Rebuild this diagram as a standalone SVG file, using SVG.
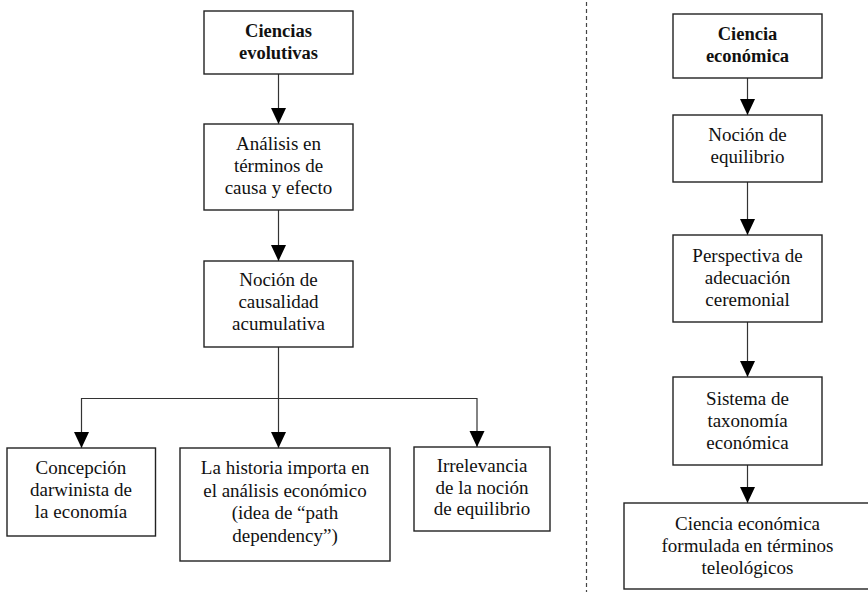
<svg xmlns="http://www.w3.org/2000/svg" width="868" height="592" viewBox="0 0 868 592">
<style>
.box{fill:#fff;stroke:#222;stroke-width:1.4}
.t{font-family:"Liberation Serif","Times New Roman",serif;font-size:19px;fill:#111;text-anchor:middle}
.b{font-weight:bold;font-size:18.5px}
.c{fill:none;stroke:#333;stroke-width:1.2}
.sep{stroke:#444;stroke-width:1.2;stroke-dasharray:4 3;fill:none}
</style>
<defs>
<marker id="ah" markerUnits="userSpaceOnUse" markerWidth="16" markerHeight="16" viewBox="0 0 16 16" refX="16" refY="8" orient="auto">
<path d="M0,0.5 L16,8 L0,15.5 z" fill="#000"/>
</marker>
</defs>
<rect width="868" height="592" fill="#fff"/>
<line class="sep" x1="586.5" y1="2" x2="586.5" y2="592"/>
<g id="connectors">
<line class="c" x1="278.5" y1="74" x2="278.5" y2="124" marker-end="url(#ah)"/>
<line class="c" x1="278.5" y1="210" x2="278.5" y2="261" marker-end="url(#ah)"/>
<line class="c" x1="278.5" y1="347" x2="278.5" y2="448" marker-end="url(#ah)"/>
<path class="c" d="M278.5,398.5 H81.5 V448" marker-end="url(#ah)"/>
<path class="c" d="M278.5,398.5 H477 V447" marker-end="url(#ah)"/>
<line class="c" x1="747.5" y1="78" x2="747.5" y2="115" marker-end="url(#ah)"/>
<line class="c" x1="747.5" y1="182" x2="747.5" y2="235" marker-end="url(#ah)"/>
<line class="c" x1="747.5" y1="322" x2="747.5" y2="377" marker-end="url(#ah)"/>
<line class="c" x1="747.5" y1="465" x2="747.5" y2="503" marker-end="url(#ah)"/>
</g>
<g id="n1">
<rect class="box" x="204" y="11" width="149" height="63"/>
<text class="t b" x="278.5" y="36.5">Ciencias</text>
<text class="t b" x="278.5" y="58.5">evolutivas</text>
</g>
<g id="n2">
<rect class="box" x="204" y="124" width="149" height="86"/>
<text class="t" x="278.5" y="150">Análisis en</text>
<text class="t" x="278.5" y="172">términos de</text>
<text class="t" x="278.5" y="194">causa y efecto</text>
</g>
<g id="n3">
<rect class="box" x="204" y="261" width="149" height="86"/>
<text class="t" x="278.5" y="286">Noción de</text>
<text class="t" x="278.5" y="308">causalidad</text>
<text class="t" x="278.5" y="330">acumulativa</text>
</g>
<g id="n4">
<rect class="box" x="7" y="448" width="148.5" height="88"/>
<text class="t" x="81" y="474">Concepción</text>
<text class="t" x="81" y="496">darwinista de</text>
<text class="t" x="81" y="518">la economía</text>
</g>
<g id="n5">
<rect class="box" x="180" y="448" width="210" height="113"/>
<text class="t" x="285" y="474">La historia importa en</text>
<text class="t" x="285" y="496.5">el análisis económico</text>
<text class="t" x="285" y="519">(idea de “path</text>
<text class="t" x="285" y="541.5">dependency”)</text>
</g>
<g id="n6">
<rect class="box" x="414" y="447" width="136" height="84"/>
<text class="t" x="482" y="472">Irrelevancia</text>
<text class="t" x="482" y="493.5">de la noción</text>
<text class="t" x="482" y="515">de equilibrio</text>
</g>
<g id="r1">
<rect class="box" x="673" y="14" width="149" height="64"/>
<text class="t b" x="747.5" y="40">Ciencia</text>
<text class="t b" x="747.5" y="62">económica</text>
</g>
<g id="r2">
<rect class="box" x="673" y="115" width="149" height="67"/>
<text class="t" x="747.5" y="141">Noción de</text>
<text class="t" x="747.5" y="163">equilibrio</text>
</g>
<g id="r3">
<rect class="box" x="673" y="235" width="149" height="87"/>
<text class="t" x="747.5" y="262">Perspectiva de</text>
<text class="t" x="747.5" y="284">adecuación</text>
<text class="t" x="747.5" y="306">ceremonial</text>
</g>
<g id="r4">
<rect class="box" x="673" y="377" width="149" height="88"/>
<text class="t" x="747.5" y="405">Sistema de</text>
<text class="t" x="747.5" y="427">taxonomía</text>
<text class="t" x="747.5" y="449">económica</text>
</g>
<g id="r5">
<rect class="box" x="624" y="503" width="248" height="86"/>
<text class="t" x="747.5" y="530">Ciencia económica</text>
<text class="t" x="747.5" y="552">formulada en términos</text>
<text class="t" x="747.5" y="574">teleológicos</text>
</g>
</svg>
